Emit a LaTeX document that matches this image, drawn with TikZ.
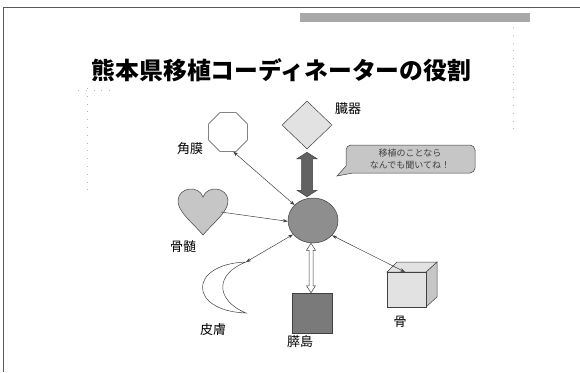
\documentclass[tikz,border=0pt]{standalone}
\usepackage{fontspec}
\setmainfont{Noto Sans CJK JP}
\usetikzlibrary{shapes.geometric,arrows.meta,calc}
\definecolor{lightfill}{HTML}{E2E2E2}
\definecolor{midfill}{HTML}{C6C6C6}
\definecolor{hubfill}{HTML}{8E8E8E}
\definecolor{darkfill}{HTML}{7A7A7A}
\definecolor{linegray}{HTML}{404040}
\definecolor{bandgray}{HTML}{A8A8A8}
\begin{document}
\begin{tikzpicture}[x=1pt,y=-1pt,
  shapeline/.style={draw=linegray,line width=0.5pt},
  conn/.style={draw=linegray,line width=0.5pt},
  tipa/.tip={Stealth[length=5pt,width=3.5pt]},
  lbl/.style={font=\fontsize{13}{13}\selectfont,inner sep=0pt},
  dots/.style={draw=gray!60,line width=0.7pt,dash pattern=on 0.8pt off 7pt}]
\useasboundingbox (0,0) rectangle (580,372);
% frame
\draw[gray!70!black,line width=0.8pt] (3,372) -- (3,7) -- (580,7);
\fill[bandgray] (300,13) rectangle (530,22);
\draw[dots] (87,88) -- (87,194);
\draw[dots] (78,90) -- (115,90);
\draw[dots] (513,27) -- (513,131);
% title
\node[font=\fontsize{23.8}{23.8}\selectfont\bfseries,inner sep=0pt] (title) at (281.5,70) {熊本県移植コーディネーターの役割};
% hub
\node[ellipse,shapeline,fill=hubfill,minimum width=50,minimum height=45,inner sep=0pt] (hub) at (313,220.5) {};
% organ diamond
\node[diamond,shapeline,fill=lightfill,minimum width=50,minimum height=48,inner sep=0pt] (dia) at (307,125) {};
\node[lbl] (diaL) at (348,109) {臓器};
% octagon
\node[regular polygon,regular polygon sides=8,shapeline,fill=white,minimum size=42,inner sep=0pt] (oct) at (228,132) {};
\node[lbl] (octL) at (190,149) {角膜};
% heart
\draw[shapeline,fill=midfill] (203,235) .. controls (192,222) and (177,211) .. (178,200)
  .. controls (179,187) and (199,185) .. (203,197)
  .. controls (207,185) and (227,187) .. (228,200)
  .. controls (229,211) and (214,222) .. (203,235) -- cycle;
\coordinate (heartR) at (221,212);
\node[lbl] (heartL) at (183,247) {骨髄};
% crescent
\draw[shapeline,fill=white] (246,262) .. controls (188,264) and (188,311) .. (246,313)
  .. controls (215,300) and (215,274) .. (246,262) -- cycle;
\coordinate (crescT) at (246,262);
\node[lbl] (crescL) at (213,330) {皮膚};
% square
\node[rectangle,shapeline,fill=darkfill,minimum size=40,inner sep=0pt] (sq) at (312,313) {};
\node[lbl] (sqL) at (300,342) {膵島};
% cube
\draw[shapeline,fill=midfill] (426,272) -- (437,262) -- (437,297) -- (426,307) -- cycle;
\draw[shapeline,fill=lightfill] (387,272) -- (397,262) -- (437,262) -- (426,272) -- cycle;
\draw[shapeline,fill=lightfill] (387,272) rectangle (426,307);
\coordinate (cubeT) at (405,272);
\node[lbl] (cubeL) at (400,322) {骨};
% speech bubble
\draw[shapeline,fill=midfill] (337,176) -- (346,166) [rounded corners=5pt] -- (346,145) -- (475,145) -- (475,173) [sharp corners] -- (353,173) -- cycle;
\node[align=center,font=\fontsize{9}{12}\selectfont,text=black!75,inner sep=0pt] (bubble) at (410,159) {移植のことなら\\なんでも聞いてね！};
% thick double arrow between organ and hub
\coordinate (bigT) at ($(dia.south)+(0,3)$);
\coordinate (bigB) at ($(dia.south|-hub.north)+(0,-1)$);
\draw[shapeline,fill=darkfill!80!black] (bigT) -- ++(10,6.5) -- ++(-4.5,0) -- ($(bigB)+(5.5,-6.5)$) -- ++(4.5,0)
  -- (bigB) -- ++(-10,-6.5) -- ++(4.5,0) -- ($(bigT)+(-5.5,6.5)$) -- ++(-4.5,0) -- cycle;
% hollow double arrow between hub and square
\coordinate (thinT) at ($(sq.north|-hub.south)+(-1,0)$);
\coordinate (thinB) at ($(sq.north)+(-1,0)$);
\draw[shapeline,fill=white] (thinT) -- ++(4.5,7) -- ++(-2.5,0) -- ($(thinB)+(2,-7)$) -- ++(2.5,0)
  -- (thinB) -- ++(-4.5,-7) -- ++(2.5,0) -- ($(thinT)+(-2,7)$) -- ++(-2.5,0) -- cycle;
% connectors
\draw[conn,tipa-tipa] (hub.140) -- (oct.-75);
\draw[conn,-tipa] (heartR) -- (hub.182);
\draw[conn,tipa-tipa] (hub.215) -- (crescT);
\draw[conn,tipa-tipa] (hub.-38) -- (cubeT);
\end{tikzpicture}
\end{document}
